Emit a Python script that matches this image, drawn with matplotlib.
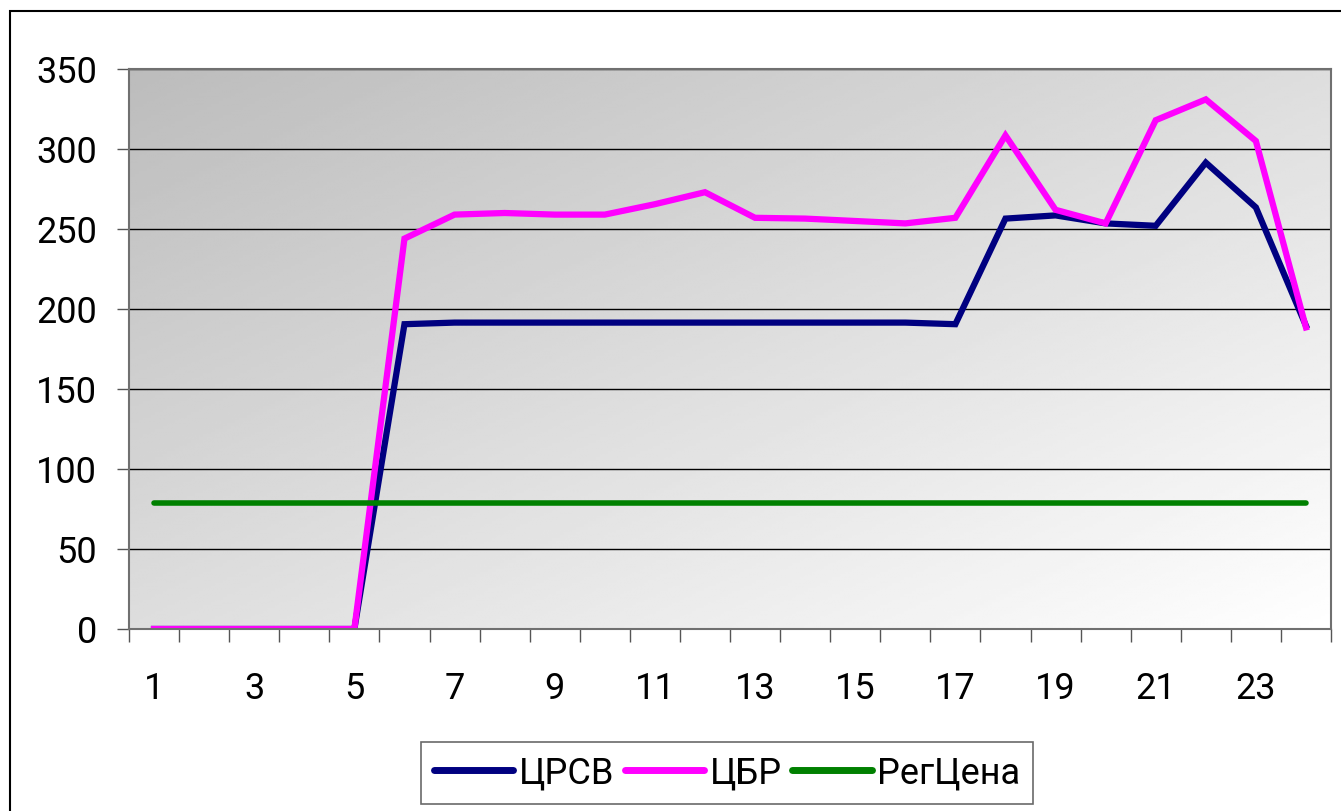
import matplotlib
matplotlib.use("Agg")
import matplotlib.pyplot as plt
from matplotlib.patches import Rectangle
import numpy as np

plt.rcParams['font.family'] = ['Roboto', 'DejaVu Sans']

hours = list(range(1, 25))
tsrsv = [0, 0, 0, 0, 0, 190.5, 191.5, 191.5, 191.5, 191.5, 191.5, 191.5,
         191.5, 191.5, 191.5, 191.5, 190.5, 256.5, 258.5, 253.5, 252, 291.5, 263.5, 189.5]
tsbr = [0, 0, 0, 0, 0, 244, 259, 260, 259, 259, 265.5, 273,
        257, 256.5, 255, 253.5, 257, 308.5, 262, 253.5, 318, 331, 305, 188.5]
regprice = [79] * 24
series_names = ['ЦРСВ', 'ЦБР', 'РегЦена']
x_labels = [str(h) for h in hours[::2]]

fig = plt.figure(figsize=(13.41, 8.11), dpi=100)
fig.patch.set_facecolor('white')

# outer chart frame (only left/top edges visible)
fig.patches.append(Rectangle((10 / 1341, -0.05), 1.2, 1 - 11 / 811 + 0.05,
                             transform=fig.transFigure, fill=False,
                             edgecolor='black', linewidth=1.5))

ax = fig.add_axes([129 / 1341, 1 - 629 / 811, 1202 / 1341, 560 / 811])

# diagonal grey gradient background
u = np.linspace(0, 1, 300)
v = np.linspace(1, 0, 200)
U, V = np.meshgrid(u, v)
t = (U + (1 - V)) / 2
grad = 188 / 255 + (1 - 188 / 255) * t
ax.imshow(grad, cmap='gray', vmin=0, vmax=1, extent=[0, 1, 0, 1],
          transform=ax.transAxes, aspect='auto', zorder=0, interpolation='bilinear')

ax.plot(hours, tsrsv, color='#000080', lw=4.5, label=series_names[0], zorder=3,
        solid_joinstyle='miter')
ax.plot(hours, tsbr, color='#FF00FF', lw=4.5, label=series_names[1], zorder=4,
        solid_joinstyle='miter')
ax.plot(hours, regprice, color='#008000', lw=4, label=series_names[2], zorder=5,
        solid_capstyle='round')

ax.set_xlim(0.5, 24.5)
ax.set_ylim(0, 350)
ax.set_yticks(range(0, 351, 50))
ax.yaxis.grid(True, color='black', lw=1)
ax.set_axisbelow(False)
for gl in ax.get_ygridlines():
    gl.set_zorder(1)

ax.set_xticks(np.arange(0.5, 25, 1))
ax.set_xticklabels([])
ax.set_xticks(hours[::2], minor=True)
ax.set_xticklabels(x_labels, minor=True)
ax.tick_params(axis='x', which='major', length=9, width=1, color='#555555', direction='out')
ax.tick_params(axis='x', which='minor', length=0, pad=30, labelsize=26)
ax.tick_params(axis='y', length=9, width=1, color='#555555', pad=14, labelsize=26)

for side in ['top', 'right', 'bottom', 'left']:
    ax.spines[side].set_color('#707070')
    ax.spines[side].set_linewidth(1.5)
    ax.spines[side].set_zorder(6)

leg = fig.legend(loc='center', bbox_to_anchor=(727 / 1341, 1 - 773 / 811), ncol=3,
                 fontsize=26, frameon=True, fancybox=False, edgecolor='#444444',
                 handlelength=2.2, handletextpad=0.15, columnspacing=0.3,
                 borderpad=0.35)
leg.get_frame().set_linewidth(1.2)
for line in leg.get_lines():
    line.set_linewidth(5)
    line.set_solid_capstyle('round')

fig.savefig('out.png', dpi=100)
